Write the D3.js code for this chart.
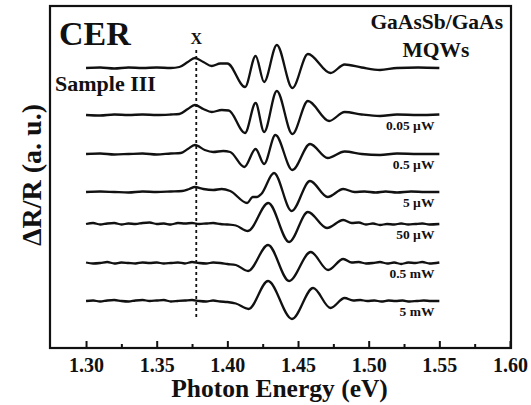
<!DOCTYPE html>
<html>
<head>
<meta charset="utf-8">
<script src="https://cdn.jsdelivr.net/npm/d3@7"></script>
<style>
  body { margin: 0; background: #fff; }
  text { font-family: "Liberation Serif", "Times New Roman", serif; font-weight: bold; fill: #111; }
</style>
</head>
<body>
<div id="chart"></div>
<script>
// ---- data (energy in eV, dR/R in arbitrary units) ----
const energyTicks = [1.30, 1.35, 1.40, 1.45, 1.50, 1.55, 1.60];
const minorTicks = [1.325, 1.375, 1.425, 1.475, 1.525, 1.575];

const powerLabels = ["", "0.05 \u00b5W", "0.5 \u00b5W", "5 \u00b5W", "50 \u00b5W", "0.5 mW", "5 mW"];
const offsets = [28.0, 23.3, 19.4, 15.6, 12.4, 8.5, 4.7];

const cerDark = [
  [1.300,0],[1.310,0.05],[1.320,-0.05],[1.330,0.05],[1.340,0],[1.350,0.05],[1.360,0],
  [1.366,0.1],[1.372,0.6],[1.377,1.0],[1.383,0.6],[1.389,0.2],[1.395,0.45],[1.400,0.45],
  [1.4125,-1.9],[1.420,1.2],[1.426,-1.4],[1.435,2.3],[1.446,-2.0],[1.457,1.4],[1.473,-0.5],
  [1.483,0.35],[1.495,0.05],[1.508,-0.2],[1.520,0],[1.535,0.05],[1.550,0]
];
const cer005uW = [
  [1.300,0],[1.310,-0.05],[1.320,0.05],[1.330,0],[1.340,0.05],[1.350,0],[1.360,0.05],
  [1.366,0.1],[1.372,0.6],[1.377,1.0],[1.383,0.6],[1.389,0.3],[1.396,0.5],[1.401,0.45],
  [1.4125,-1.8],[1.420,1.2],[1.426,-1.7],[1.435,2.4],[1.446,-1.9],[1.457,1.4],[1.472,-0.6],
  [1.483,0.3],[1.495,0.05],[1.508,-0.1],[1.520,0.05],[1.535,0],[1.550,0.05]
];
const cer05uW = [
  [1.300,0],[1.310,0.05],[1.320,-0.05],[1.330,0],[1.340,0.05],[1.350,-0.05],[1.360,0.05],
  [1.367,0.1],[1.372,0.5],[1.377,0.9],[1.384,0.4],[1.390,0.2],[1.397,0.3],[1.402,0.2],
  [1.412,-1.3],[1.420,0.5],[1.426,-1.0],[1.434,1.9],[1.446,-1.6],[1.4585,1.0],[1.471,-0.4],
  [1.483,0.25],[1.495,0],[1.508,-0.1],[1.520,0.05],[1.535,0],[1.550,0]
];
const cer5uW = [
  [1.300,0],[1.310,0.05],[1.320,0],[1.330,-0.05],[1.340,0.05],[1.350,0],[1.360,0.05],
  [1.368,0.1],[1.373,0.3],[1.377,0.5],[1.383,0.3],[1.390,0.2],[1.396,0.3],[1.402,0.1],
  [1.414,-1.1],[1.418,-0.5],[1.421,-0.5],[1.424,-0.2],[1.433,1.9],[1.4455,-1.9],[1.4585,1.1],
  [1.471,-0.5],[1.482,0.3],[1.490,0],[1.497,0.05],[1.505,-0.05],[1.512,0.05],[1.520,-0.05],
  [1.530,0.05],[1.540,0],[1.550,0]
];
const cer50uW = [
  [1.300,0],[1.305,0.1],[1.310,-0.05],[1.315,0.05],[1.320,0.1],[1.325,-0.05],[1.330,0.05],
  [1.335,0],[1.340,0.1],[1.345,0.15],[1.350,0],[1.355,0.05],[1.360,-0.05],[1.365,0.1],
  [1.370,0.05],[1.375,0.1],[1.380,0],[1.385,0.05],[1.390,0.1],[1.395,0],[1.400,-0.05],
  [1.406,-0.15],[1.4145,-0.7],[1.429,2.1],[1.4437,-1.8],[1.457,1.2],[1.4705,-0.4],[1.482,0.4],
  [1.488,0.1],[1.493,0.15],[1.498,-0.05],[1.503,0.05],[1.508,-0.1],[1.513,0],[1.518,-0.05],
  [1.523,0.05],[1.528,-0.05],[1.533,0],[1.538,0.05],[1.543,-0.05],[1.550,0]
];
const cer05mW = [
  [1.300,0.05],[1.305,-0.05],[1.310,0],[1.315,0.1],[1.320,-0.05],[1.325,0.05],[1.330,0],
  [1.335,-0.05],[1.340,0.05],[1.345,0],[1.350,0.05],[1.355,-0.05],[1.360,0],[1.365,0.05],
  [1.370,-0.05],[1.375,0.1],[1.380,0],[1.385,-0.05],[1.390,0.05],[1.395,0],[1.400,-0.1],
  [1.406,-0.2],[1.4147,-0.8],[1.4288,1.8],[1.4437,-1.8],[1.459,1.1],[1.4713,-0.7],[1.482,0.4],
  [1.488,0.05],[1.493,0.1],[1.498,-0.05],[1.503,0],[1.508,0.1],[1.513,-0.05],[1.518,0.05],
  [1.523,-0.1],[1.528,0.05],[1.533,0],[1.538,0.1],[1.543,-0.05],[1.550,0.05]
];
const cer5mW = [
  [1.300,0],[1.305,0.05],[1.310,-0.05],[1.315,0.05],[1.320,0.1],[1.325,0],[1.330,-0.05],
  [1.335,0.05],[1.340,0.1],[1.345,0],[1.350,0.05],[1.355,0.1],[1.360,-0.05],[1.365,0],
  [1.370,0.05],[1.375,0.1],[1.380,0],[1.385,-0.05],[1.390,0.05],[1.395,-0.05],[1.400,-0.1],
  [1.406,-0.25],[1.415,-0.8],[1.4288,2.0],[1.4457,-1.8],[1.4607,1.3],[1.473,-0.7],[1.483,0.3],
  [1.489,0.05],[1.494,0.1],[1.499,0],[1.504,0.05],[1.509,-0.05],[1.514,0.05],[1.519,0],
  [1.524,0.05],[1.529,-0.05],[1.534,0],[1.539,0.05],[1.544,0],[1.550,0]
];
const spectra = [cerDark, cer005uW, cer05uW, cer5uW, cer50uW, cer05mW, cer5mW];

// dashed marker for the X feature
const markerEnergy = 1.378;
const markerSpan = [29.8, 3.0];

// ---- layout ----
const width = 531, height = 405;
const margin = { top: 6, right: 20, bottom: 57, left: 50 };
const innerW = width - margin.left - margin.right;
const innerH = height - margin.top - margin.bottom;

const svg = d3.select("#chart").append("svg")
  .attr("width", width)
  .attr("height", height);

const g = svg.append("g")
  .attr("transform", `translate(${margin.left},${margin.top})`);

const x = d3.scaleLinear().domain([1.2745, 1.6007]).range([0, innerW]);
const y = d3.scaleLinear().domain([0, 34.2]).range([innerH, 0]);

// axes: ticks point inward
const xAxis = d3.axisBottom(x)
  .tickValues(energyTicks)
  .tickFormat(d3.format(".2f"))
  .tickSizeInner(-7)
  .tickSizeOuter(0)
  .tickPadding(10);

const xMinor = d3.axisBottom(x)
  .tickValues(minorTicks)
  .tickFormat("")
  .tickSizeInner(-4)
  .tickSizeOuter(0);

const ax = g.append("g")
  .attr("transform", `translate(0,${innerH})`)
  .call(xAxis);
ax.select(".domain").remove();
ax.selectAll(".tick line").attr("stroke", "#111").attr("stroke-width", 2);
ax.selectAll(".tick text")
  .style("font-size", "20px")
  .style("font-family", "'Liberation Serif', serif")
  .style("font-weight", "bold")
  .attr("fill", "#222");

const axm = g.append("g")
  .attr("transform", `translate(0,${innerH})`)
  .call(xMinor);
axm.select(".domain").remove();
axm.selectAll(".tick line").attr("stroke", "#111").attr("stroke-width", 2);

// frame
g.append("rect")
  .attr("x", 0).attr("y", 0)
  .attr("width", innerW).attr("height", innerH)
  .attr("fill", "none")
  .attr("stroke", "#111")
  .attr("stroke-width", 2.2);

// spectra
const line = d3.line()
  .x(d => x(d[0]))
  .y(d => y(d[1]))
  .curve(d3.curveMonotoneX);

spectra.forEach((s, i) => {
  g.append("path")
    .datum(s.map(d => [d[0], d[1] + offsets[i]]))
    .attr("fill", "none")
    .attr("stroke", "#111")
    .attr("stroke-width", 2.3)
    .attr("stroke-linejoin", "round")
    .attr("d", line);

  if (powerLabels[i]) {
    g.append("text")
      .attr("x", x(1.5465))
      .attr("y", y(offsets[i] - 1.45))
      .attr("text-anchor", "end")
      .style("font-size", "13.5px")
      .text(powerLabels[i]);
  }
});

// dashed line at X
g.append("line")
  .attr("x1", x(markerEnergy)).attr("x2", x(markerEnergy))
  .attr("y1", y(markerSpan[0])).attr("y2", y(markerSpan[1]))
  .attr("stroke", "#111")
  .attr("stroke-width", 1.8)
  .attr("stroke-dasharray", "3,3");

g.append("text")
  .attr("x", x(markerEnergy))
  .attr("y", 38)
  .attr("text-anchor", "middle")
  .style("font-size", "16px")
  .text("X");

// annotations
g.append("text").attr("x", 9).attr("y", 39)
  .style("font-size", "34px").text("CER");
g.append("text").attr("x", 5).attr("y", 85)
  .style("font-size", "22px").text("Sample III");
g.append("text").attr("x", 453).attr("y", 23)
  .attr("text-anchor", "end")
  .style("font-size", "21.5px").text("GaAsSb/GaAs");
g.append("text").attr("x", 386).attr("y", 51)
  .attr("text-anchor", "middle")
  .style("font-size", "21.5px").text("MQWs");

// axis titles
svg.append("text")
  .attr("x", margin.left + innerW / 2 - 1)
  .attr("y", 397)
  .attr("text-anchor", "middle")
  .style("font-size", "25.5px")
  .text("Photon Energy (eV)");

svg.append("text")
  .attr("transform", "translate(41,175) rotate(-90)")
  .attr("text-anchor", "middle")
  .style("font-size", "28px")
  .text("\u0394R/R (a. u.)");
</script>
</body>
</html>
